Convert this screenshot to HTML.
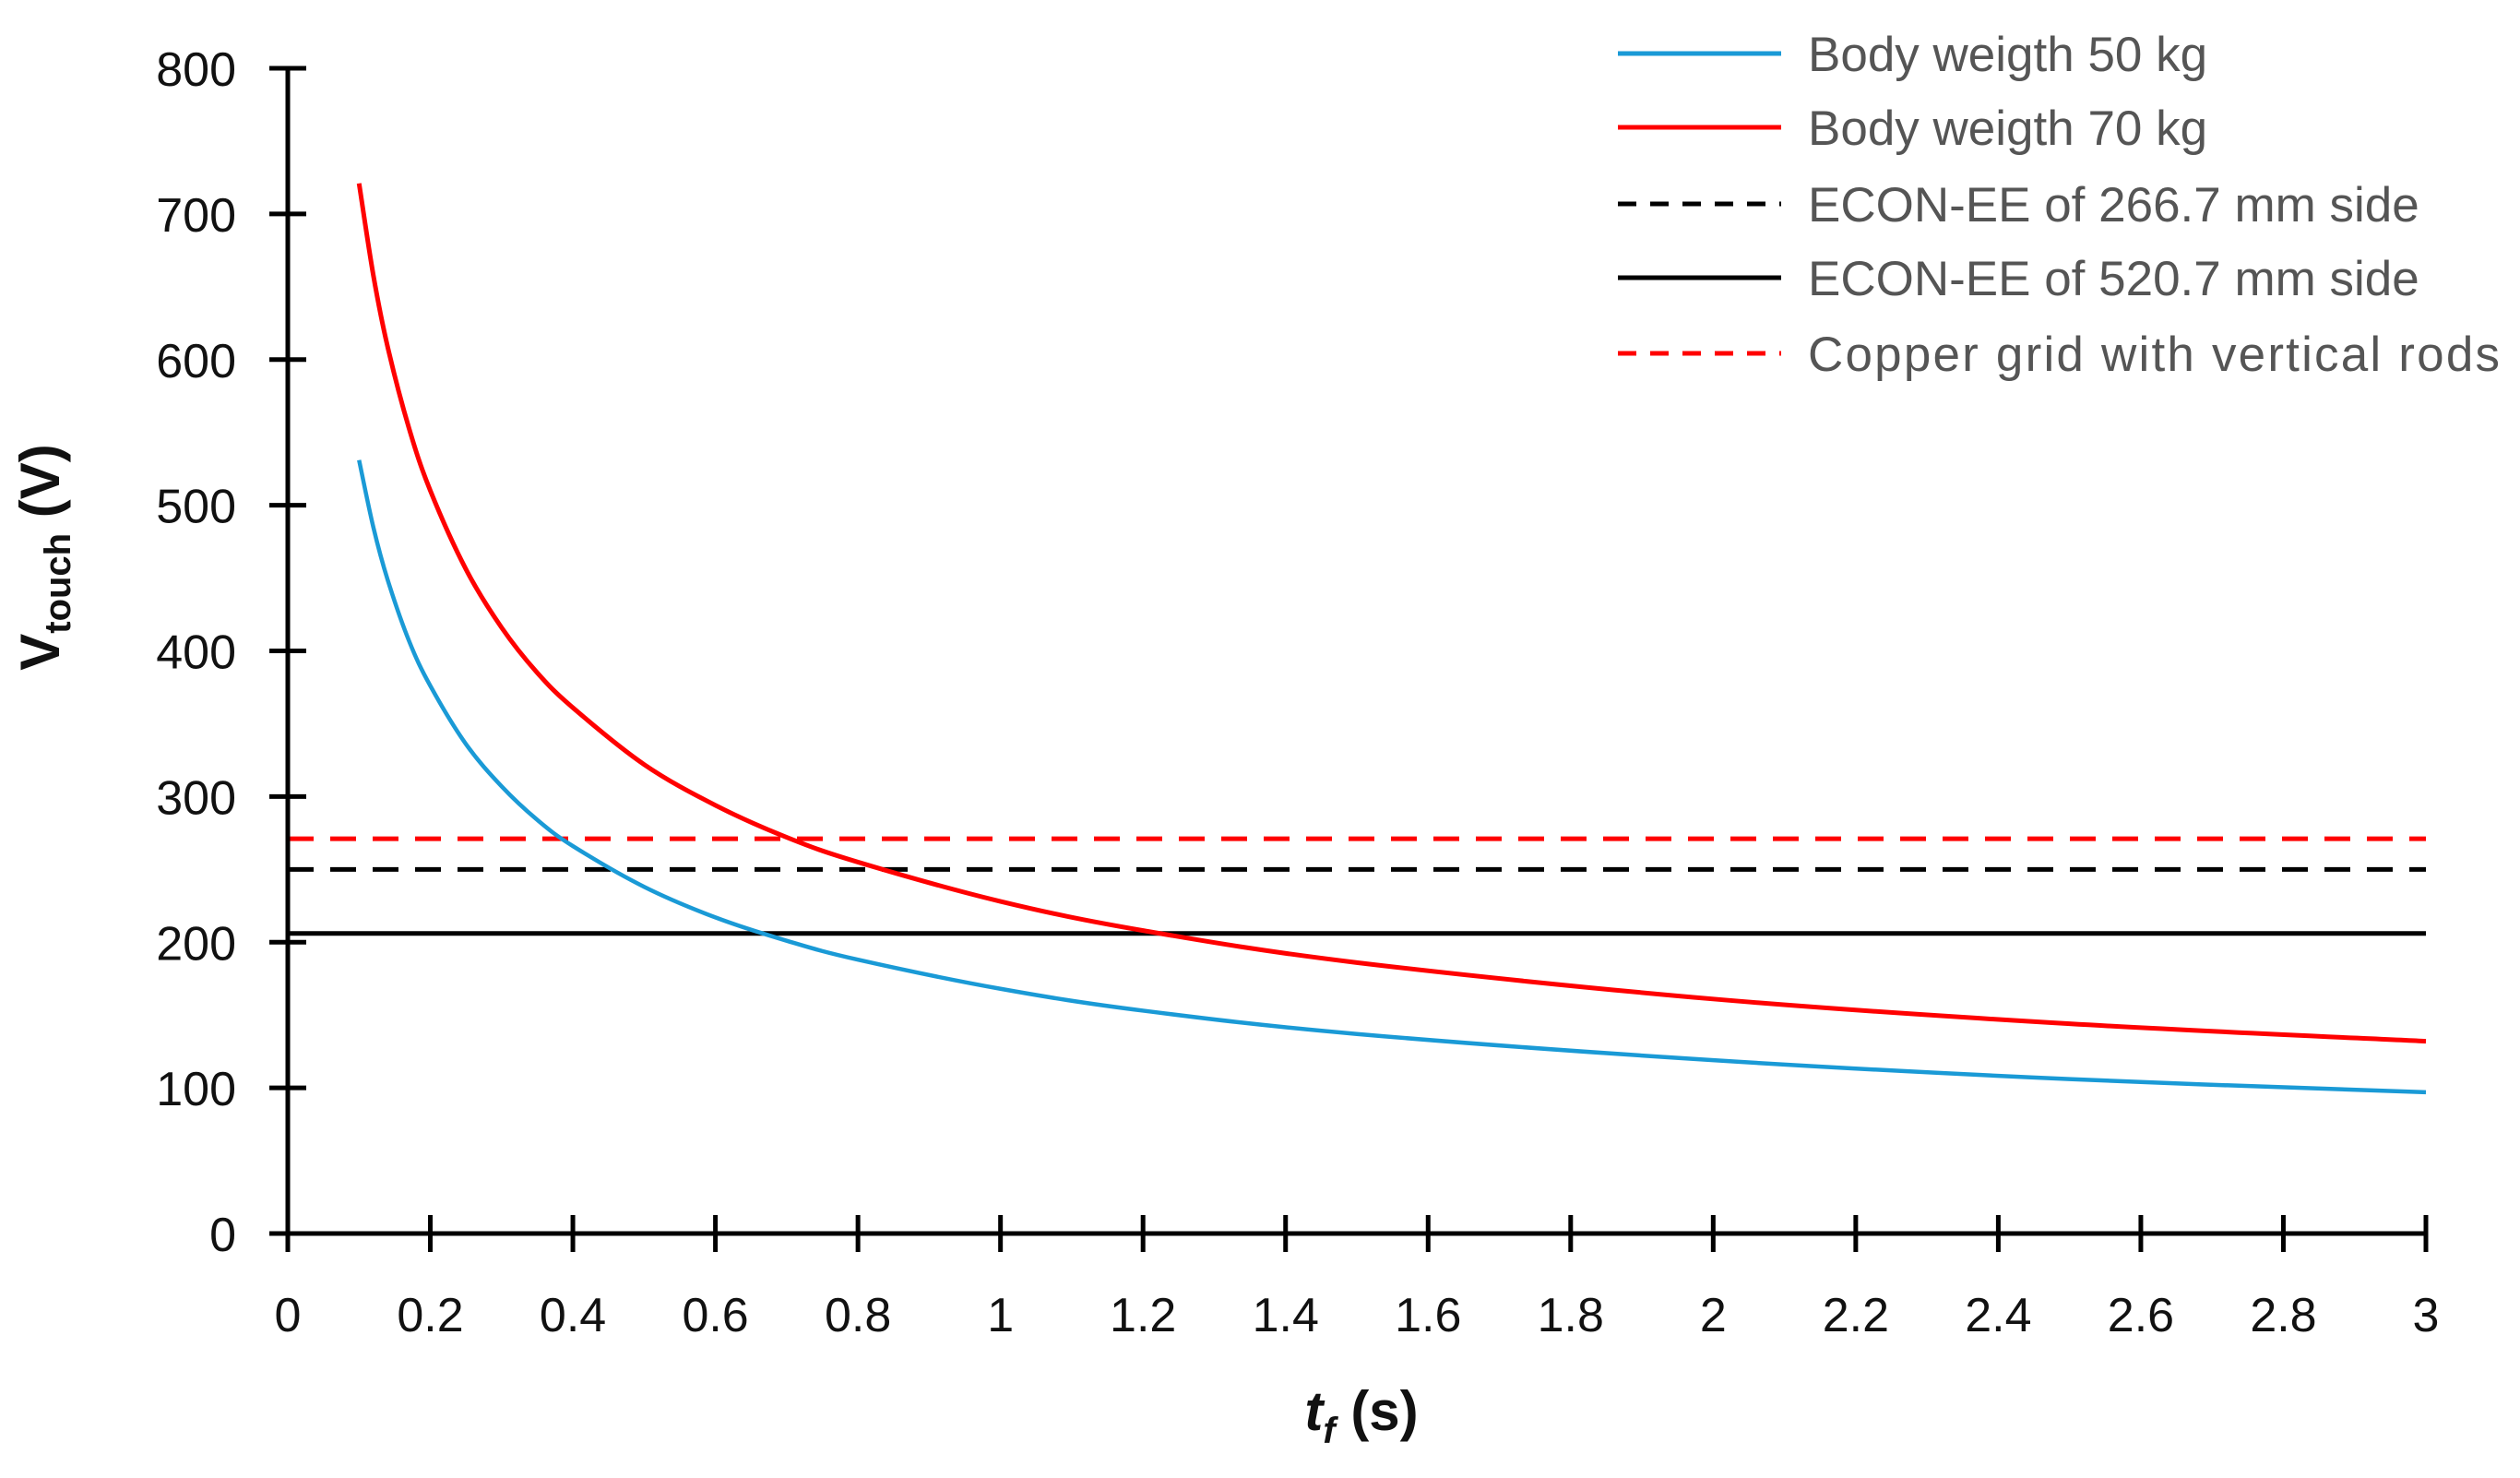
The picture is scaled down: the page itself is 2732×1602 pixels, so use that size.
<!DOCTYPE html>
<html><head><meta charset="utf-8"><style>
html,body{margin:0;padding:0;background:#fff;}
svg{display:block;font-family:"Liberation Sans",sans-serif;}
</style></head><body>
<svg id="chart" width="2732" height="1602" viewBox="0 0 2732 1602" xmlns="http://www.w3.org/2000/svg">
<g id="grid-lines"></g>
<g id="series"></g>
<g id="axes"></g>
<text transform="translate(64,604) rotate(-90)" text-anchor="middle" font-size="60" font-weight="bold" fill="#111">V<tspan font-size="40" dy="12">touch</tspan><tspan dy="-12"> (V)</tspan></text>
<text x="1476" y="1550" text-anchor="middle" font-size="60" font-weight="bold" fill="#111"><tspan font-style="italic">t</tspan><tspan font-style="italic" font-size="40" dy="14">f</tspan><tspan dy="-14"> (s)</tspan></text>
<g id="legend"></g>
</svg>
<script>
const tValues = [0.1,0.12,0.14,0.17,0.2,0.25,0.3,0.35,0.4,0.5,0.6,0.7,0.8,1,1.2,1.5,2,2.5,3];
const blue50 = [531,485,449,407,376,336,307,284,266,238,217,201,188,168,153,137,119,106,97];
const red70 = [721,658,609,553,510,456,416,385,361,322,294,272,255,228,208,186,161,144,132];
const hLineValues = [271,250,206];
const xTicks = [0,0.2,0.4,0.6,0.8,1,1.2,1.4,1.6,1.8,2,2.2,2.4,2.6,2.8,3];
const yTicks = [0,100,200,300,400,500,600,700,800];
const legendLabels = ["Body weigth 50 kg","Body weigth 70 kg","ECON-EE of 266.7 mm side","ECON-EE of 520.7 mm side","Copper grid with vertical rods"];

const NS="http://www.w3.org/2000/svg";
const X0=312,X1=2630,Y0=1337,Y1=74;
function xs(v){return X0+(v-0)/(3-0)*(X1-X0);}
function ys(v){return Y0-(v-0)/(800-0)*(Y0-Y1);}
function mk(tag,attrs,parent){const e=document.createElementNS(NS,tag);for(const k in attrs)e.setAttribute(k,attrs[k]);parent.appendChild(e);return e;}

const gl=document.getElementById('grid-lines');
const hStyles=[{c:"#ff0000",d:"28 18"},{c:"#000",d:"28 18"},{c:"#000",d:""}];
const hNames=['copper-grid-line','econ-266-line','econ-520-line'];
hLineValues.forEach((v,i)=>{
  const l=mk('line',{x1:xs(0),x2:xs(3),y1:ys(v),y2:ys(v),stroke:hStyles[i].c,'stroke-width':5,'stroke-dasharray':hStyles[i].d},gl);
  
  
});

function pathFor(vals){
  const p=tValues.map((t,i)=>[xs(t),ys(vals[i])]);
  let d=`M${p[0][0]},${p[0][1]}`;
  for(let i=0;i<p.length-1;i++){
    const a=p[i-1]||p[i],b=p[i],c=p[i+1],e=p[i+2]||c;
    d+=` C${b[0]+(c[0]-a[0])/6},${b[1]+(c[1]-a[1])/6} ${c[0]-(e[0]-b[0])/6},${c[1]-(e[1]-b[1])/6} ${c[0]},${c[1]}`;
  }
  return d;
}
const sg=document.getElementById('series');
const sb=mk('path',{d:pathFor(blue50),fill:'none',stroke:'#1a9ad6','stroke-width':4.5},sg);


const sr=mk('path',{d:pathFor(red70),fill:'none',stroke:'#ff0000','stroke-width':5},sg);



const ax=document.getElementById('axes');
mk('line',{x1:X0,x2:X0,y1:Y1,y2:Y0,stroke:'#000','stroke-width':5},ax);
mk('line',{x1:X0-20,x2:X1,y1:Y0,y2:Y0,stroke:'#000','stroke-width':5},ax);
yTicks.forEach(v=>{
  mk('line',{x1:X0-20,x2:X0+20,y1:ys(v),y2:ys(v),stroke:'#000','stroke-width':5},ax);
  const t=mk('text',{x:256,y:ys(v)+19,'text-anchor':'end','font-size':52,fill:'#111'},ax);
  t.textContent=v;
  
  
});
xTicks.forEach(v=>{
  mk('line',{x1:xs(v),x2:xs(v),y1:Y0-20,y2:Y0+20,stroke:'#000','stroke-width':5},ax);
  const t=mk('text',{x:xs(v),y:1443,'text-anchor':'middle','font-size':52,fill:'#111'},ax);
  t.textContent=v;
  
  
});

const lg=document.getElementById('legend');
const lStyles=[{c:"#1a9ad6",d:""},{c:"#ff0000",d:""},{c:"#000",d:"20 15"},{c:"#000",d:""},{c:"#ff0000",d:"20 15"}];
const lRows=[58,138,221,301,383];
legendLabels.forEach((lab,i)=>{
  const g=mk('g',{},lg);
  
  
  mk('line',{x1:1754,x2:1931,y1:lRows[i],y2:lRows[i],stroke:lStyles[i].c,'stroke-width':5,'stroke-dasharray':lStyles[i].d},g);
  const t=mk('text',{x:1960,y:lRows[i]+19,'font-size':53,fill:'#555',textLength:i==4?750:null},g);
  if(i!==4) t.removeAttribute('textLength');
  t.textContent=lab;
});
</script>
</body></html>
